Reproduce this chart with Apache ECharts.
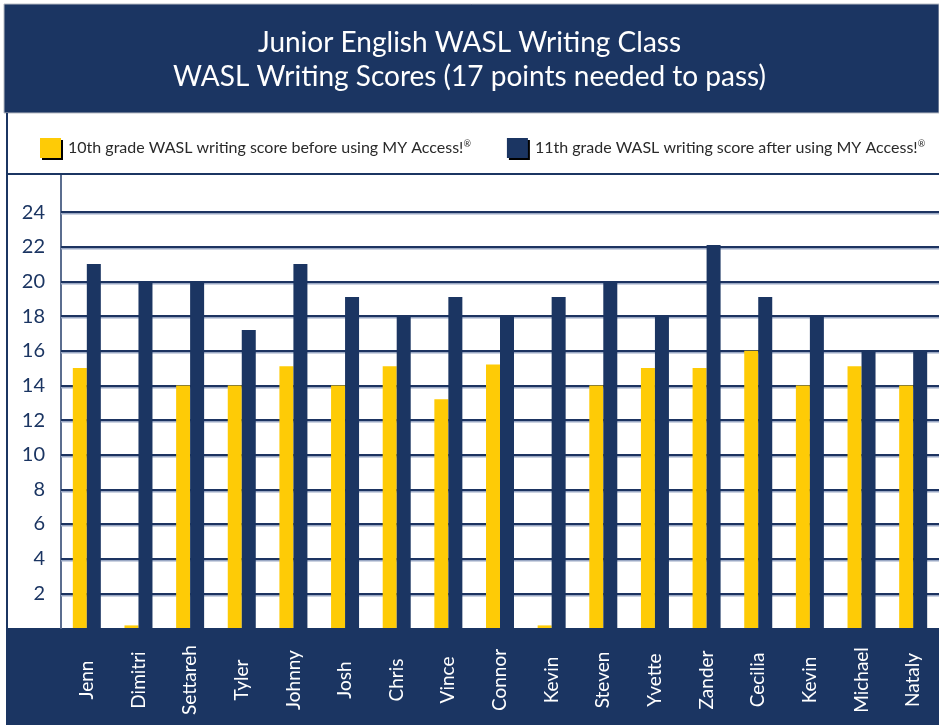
<!DOCTYPE html>
<html><head><meta charset="utf-8">
<script src="https://cdn.jsdelivr.net/npm/echarts/dist/echarts.min.js"></script>
<style>html,body{margin:0;padding:0;background:#fff}#c{width:939px;height:725px}</style>
</head><body><div id="c"></div>
<script>
const categories = ['Jenn','Dimitri','Settareh','Tyler','Johnny','Josh','Chris','Vince','Connor','Kevin','Steven','Yvette','Zander','Cecilia','Kevin','Michael','Nataly'];
const grade10 = [15,0.15,14,14,15.1,14,15.1,13.2,15.2,0.15,14,15,15,16,14,15.1,14];
const grade11 = [21,20,20,17.2,21,19.1,18,19.1,18,19.1,20,18,22.1,19.1,18,16,16];
const yTicks = [2,4,6,8,10,12,14,16,18,20,22,24];
const titleLines = ['Junior English WASL Writing Class','WASL Writing Scores (17 points needed to pass)'];
const legendNames = ['10th grade WASL writing score before using MY Access!®','11th grade WASL writing score after using MY Access!®'];

const NAVY = '#1b3562';
const YELLOW = '#fecb06';
const FONT = 'Lato';

const chart = echarts.init(document.getElementById('c'), null, {renderer:'canvas'});
chart.setOption({
  animation: false,
  backgroundColor: '#ffffff',
  textStyle: {fontFamily: FONT},
  graphic: [
    {type:'rect', z:-10, shape:{x:4,y:4,width:935,height:109}, style:{fill:NAVY, stroke:'#b8bcc4', lineWidth:1}},
    {type:'rect', z:-10, shape:{x:7,y:628,width:932,height:97}, style:{fill:NAVY}},
    {type:'line', z:10, shape:{x1:7,y1:113,x2:7,y2:725}, style:{stroke:NAVY, lineWidth:2}},
    {type:'line', z:10, shape:{x1:7,y1:174,x2:939,y2:174}, style:{stroke:NAVY, lineWidth:2}}
  ],
  title: {
    text: titleLines.join('\n'),
    left: 'center', top: 26, padding: 0,
    textStyle: {color:'#ffffff', fontFamily: FONT, fontSize: 28, fontWeight: 'normal', lineHeight: 34}
  },
  legend: {
    left: 35, top: 133, itemWidth: 21, itemHeight: 20, itemGap: 36,
    icon: 'rect',
    itemStyle: {shadowColor:'#000', shadowOffsetX:2, shadowOffsetY:2, shadowBlur:0},
    formatter: n => n.replace('®','{sup|®}'),
    textStyle: {color:'#2a2a2a', fontFamily: FONT, fontSize: 16, padding:[0,0,0,2],
      rich: {sup: {fontSize: 9, verticalAlign:'top', padding:[0,0,8,0], color:'#2a2a2a', fontFamily: FONT}}}
  },
  grid: {left: 61, right: -6, top: 174, bottom: 97, containLabel: false},
  xAxis: {
    type: 'category', data: categories,
    axisLine: {show:false}, axisTick: {show:false},
    axisLabel: {rotate: 90, color:'#ffffff', fontFamily: FONT, fontSize: 19, margin: 52, align:'center', interval: 0}
  },
  yAxis: {
    type: 'value', min: 0, max: 26.2, interval: 2,
    axisLine: {show:true, lineStyle:{color:'#5b6d8f', width:2}},
    axisTick: {show:false},
    splitLine: {show:false},
    axisLabel: {color: NAVY, fontFamily: FONT, fontSize: 20, margin: 16,
      formatter: v => yTicks.includes(v) ? String(v) : ''}
  },
  series: [
    {name: legendNames[0], type:'bar', data: grade10, barWidth: 14, barGap: '0%',
      itemStyle:{color: YELLOW}, z: 3},
    {name: legendNames[1], type:'bar', data: grade11, barWidth: 14, barGap: '0%',
      itemStyle:{color: NAVY}, z: 3,
      markLine: {silent: true, symbol: 'none', z: 1, animation:false,
        label: {show:false},
        lineStyle: {color:'#1d3461', width:2, type:'solid', shadowColor:'#9aa8c4', shadowOffsetY:1.5, shadowBlur:0},
        data: yTicks.map(v => ({yAxis: v}))}
    }
  ]
});
</script></body></html>
